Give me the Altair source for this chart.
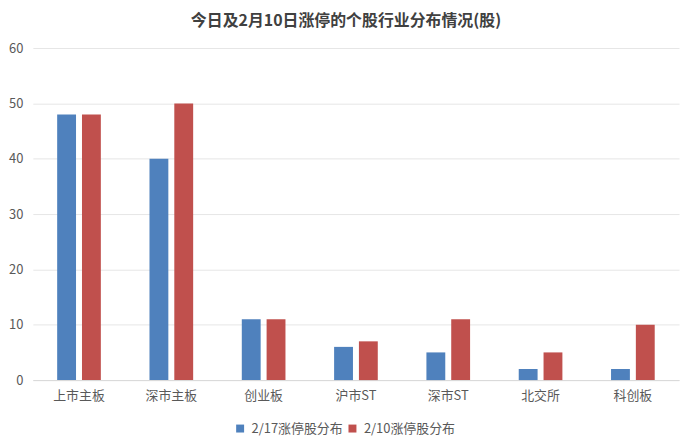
import altair as alt
import pandas as pd

categories = ["上市主板", "深市主板", "创业板", "沪市ST", "深市ST", "北交所", "科创板"]
series_names = ["2/17涨停股分布", "2/10涨停股分布"]
s_0217 = [48, 40, 11, 6, 5, 2, 2]
s_0210 = [48, 50, 11, 7, 11, 5, 10]

rows = []
for c, a, b in zip(categories, s_0217, s_0210):
    rows.append({"板块": c, "系列": series_names[0], "数量": a})
    rows.append({"板块": c, "系列": series_names[1], "数量": b})
df = pd.DataFrame(rows)

FONT = "Noto Sans CJK SC"

chart = alt.Chart(df).mark_bar().encode(
    x=alt.X("板块:N", sort=categories,
            scale=alt.Scale(paddingInner=0.5, paddingOuter=0.25),
            axis=alt.Axis(title=None, labelAngle=0, labelFontSize=13, labelColor="#595959",
                          domainColor="#d9d9d9", ticks=False, labelPadding=10, labelFont=FONT)),
    xOffset=alt.XOffset("系列:N", sort=series_names,
                        scale=alt.Scale(paddingInner=0.24, paddingOuter=0.05)),
    y=alt.Y("数量:Q", scale=alt.Scale(domain=[0, 60]),
            axis=alt.Axis(title=None, values=[0, 10, 20, 30, 40, 50, 60], labelFontSize=13,
                          labelColor="#595959", domain=False, ticks=False, gridColor="#e6e6e6",
                          labelPadding=10, labelFont=FONT)),
    color=alt.Color("系列:N", sort=series_names,
                    scale=alt.Scale(domain=series_names, range=["#4F81BD", "#C0504D"]),
                    legend=alt.Legend(title=None, orient="none", direction="horizontal",
                                      legendX=202, legendY=376, symbolType="square",
                                      labelFontSize=13, labelColor="#595959", symbolSize=64,
                                      labelFont=FONT, columnPadding=3, labelOffset=5)),
).properties(
    width=650, height=334,
    padding={"left": 0, "top": 4, "right": 5, "bottom": 5},
    title=alt.TitleParams("今日及2月10日涨停的个股行业分布情况(股)", fontSize=16, fontWeight="bold",
                          color="#404040", font=FONT, offset=13, dx=-10),
).configure_view(stroke=None)

chart.save("out.html", embed_options={"renderer": "svg", "actions": False})
